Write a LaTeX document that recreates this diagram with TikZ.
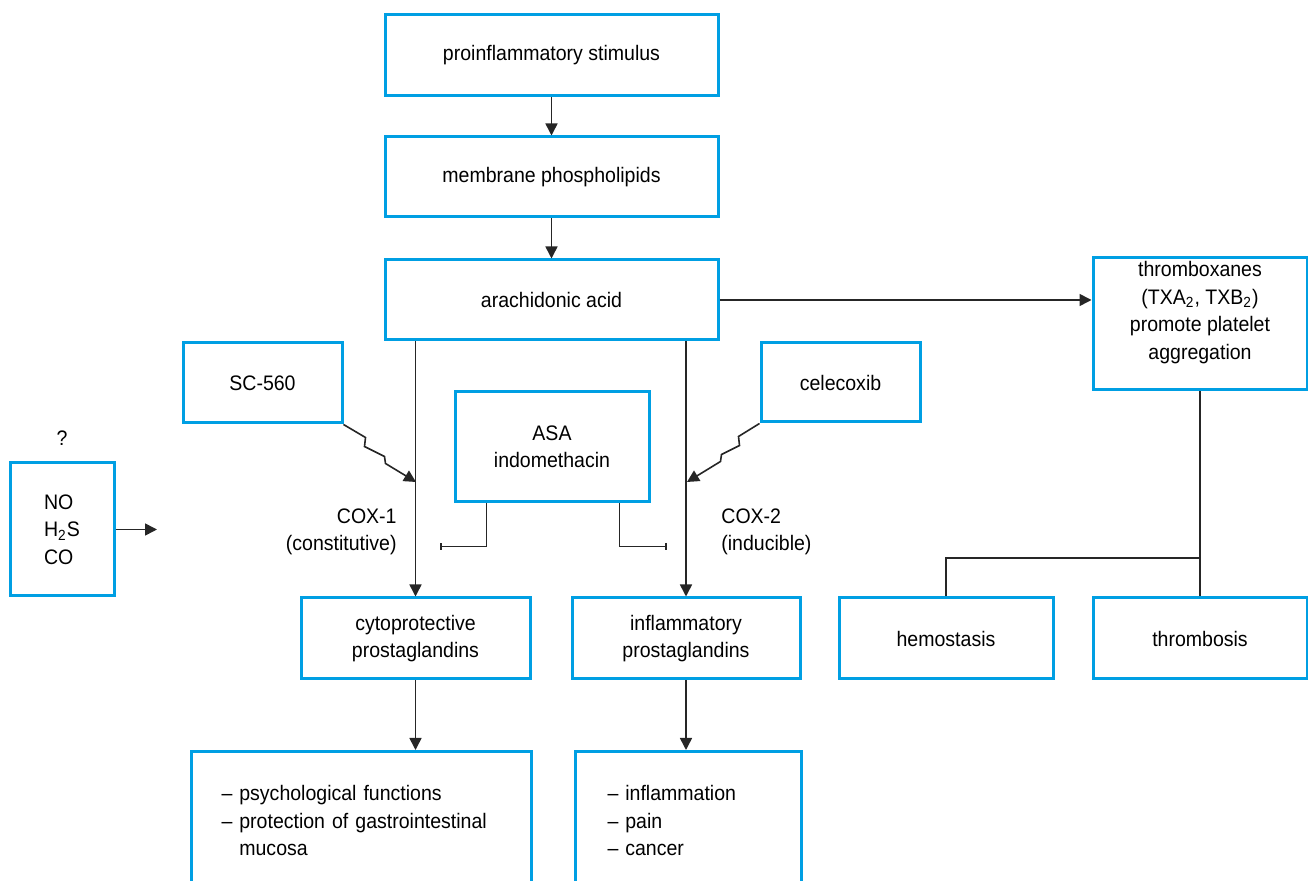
\documentclass[tikz,border=0pt]{standalone}
\usepackage{fontspec}
\setmainfont{Liberation Sans}[FakeStretch=0.93]
\usetikzlibrary{arrows.meta,calc}
\definecolor{boxblue}{RGB}{0,159,227}

\begin{document}
\begin{tikzpicture}[x=0.5pt,y=0.5pt,yscale=-1,xscale=1,
  font=\fontsize{10.5}{13.7}\selectfont,
  box/.style={draw=boxblue,line width=1.5pt,inner sep=0pt,align=center},
  link/.style={draw=black!85,line width=0.8pt},
  arr/.style={link,-{Triangle[length=6pt,width=6pt]}},
  blocked/.style={link,-{Bar[width=3.5pt]}}]
\useasboundingbox (0,0) rectangle (1308,881);
\clip (0,0) rectangle (1308,881);

%Shape: main chain
\node[box,minimum width=166.5pt,minimum height=40.5pt] (stim) at (551.5,55.5) {proinflammatory stimulus};
\node[box,minimum width=166.5pt,minimum height=40pt] (memb) at (551.5,177) {membrane phospholipids};
\node[box,minimum width=166.5pt,minimum height=40pt] (arach) at (551.5,300) {arachidonic acid};

%Shape: thromboxane branch
\node[box,minimum width=107pt,minimum height=66pt] (thromb) at (1200,324) {thromboxanes\\(TXA\textsubscript{2}, TXB\textsubscript{2})\\promote platelet\\aggregation\\\mbox{}};
\node[box,minimum width=107pt,minimum height=40.5pt] (hemo) at (946,638.5) {hemostasis};
\node[box,minimum width=107pt,minimum height=40.5pt] (thrombo) at (1200,638.5) {thrombosis};

%Shape: inhibitors
\node[box,minimum width=79.5pt,minimum height=40pt] (sc) at (262.5,383) {SC-560};
\node[box,minimum width=79.5pt,minimum height=39.5pt] (cel) at (840.5,382.5) {celecoxib};
\node[box,minimum width=97pt,minimum height=55pt] (asa) at (552,447) {ASA\\indomethacin};

%Shape: gases
\node[inner sep=0pt] (q) at (62,438) {?};
\node[box,minimum width=52pt,minimum height=66.5pt,align=left] (gas) at (62,529.5) {NO\\H\textsubscript{2}S\\CO};
\coordinate (gasend) at (157,529.5);

%Shape: prostaglandins
\node[box,minimum width=114.5pt,minimum height=40.5pt] (cyto) at (415.5,638.5) {cytoprotective\\prostaglandins};
\node[box,minimum width=114pt,minimum height=40.5pt] (infl) at (686,638.5) {inflammatory\\prostaglandins};
\node[box,anchor=north west,text width=140pt,inner xsep=15pt,inner ysep=17pt,align=left] (funcl) at (190,750) {-- psychological functions\\-- protection of gastrointestinal\\\phantom{-- }mucosa};
\node[box,anchor=north west,text width=81pt,inner xsep=16pt,inner ysep=17pt,align=left] (funcr) at (574,750) {-- inflammation\\-- pain\\-- cancer};

% Text Node
\node[inner sep=0pt,anchor=east,align=right] (cox1) at (397,532) {COX-1\\(constitutive)};
\node[inner sep=0pt,anchor=west,align=left] (cox2) at (721,532) {COX-2\\(inducible)};

%Straight Lines
\draw[arr] (stim) -- (memb);
\draw[arr] (memb) -- (arach);
\draw[arr] (arach.east) -- (arach.east -| thromb.west);
\draw[arr] (arach.south -| cyto.north) -- (cyto.north);
\draw[arr] (arach.south -| infl.north) -- (infl.north);
\draw[arr] (cyto) -- (cyto.south |- funcl.north);
\draw[arr] (infl) -- (infl.south |- funcr.north);
\draw[arr] (gas) -- (gasend);

\draw[link] (thromb) -- (thrombo);
\coordinate (split) at (1200,558);
\draw[link] (split) -| (hemo.north);

%Zigzag Lines
\coordinate (c1hit) at (416,482);
\coordinate (c2hit) at (687,482);
\draw[arr] (sc.south east) -- ++(22,13) -- ++(-1,9) -- ++(20,10) -- ++(1,7) -- (c1hit);
\draw[arr] (cel.south west) -- ++(-21,13) -- ++(1,9) -- ++(-18,9) -- ++(-1,7) -- (c2hit);

%Inhibition Lines
\coordinate (b1) at (440,546.5);
\coordinate (b2) at (667,546.5);
\draw[blocked] ($(asa.south west)+(33,0)$) |- (b1);
\draw[blocked] ($(asa.south east)+(-31,0)$) |- (b2);

\end{tikzpicture}
\end{document}
